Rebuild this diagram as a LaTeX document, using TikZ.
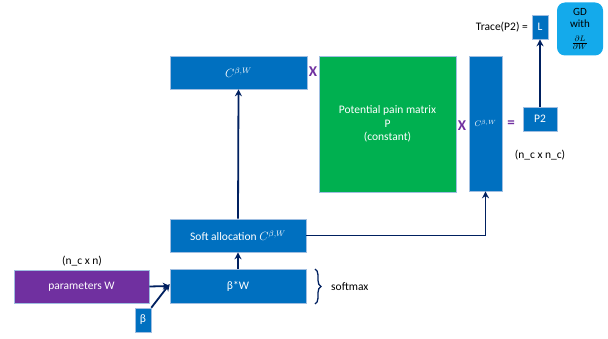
\documentclass[tikz,border=0pt]{standalone}
\usepackage{fontspec}
\setmainfont{Carlito}
\usetikzlibrary{arrows.meta,decorations.pathreplacing}
\definecolor{mblue}{RGB}{0,112,192}
\definecolor{mgreen}{RGB}{0,176,80}
\definecolor{mpurple}{RGB}{112,48,160}
\definecolor{lblue}{RGB}{20,170,235}
\definecolor{navy}{RGB}{0,32,96}
\definecolor{edge}{RGB}{160,190,225}
\begin{document}
\begin{tikzpicture}[x=1pt,y=-1pt,
  box/.style={draw=edge,line width=0.6pt,fill=mblue,text=white,inner sep=0pt,align=center,font=\fontsize{11.5}{13.5}\selectfont},
  sign/.style={text=mpurple,font=\fontsize{15}{16}\selectfont\bfseries,inner sep=0pt},
  lbl/.style={text=black,font=\fontsize{11.5}{13.5}\selectfont,inner sep=0pt},
  conn/.style={draw=navy,line width=1.8pt,-{Stealth[length=7pt,width=7pt]}}]
\useasboundingbox (0,0) rectangle (608,339);
\node[box,minimum width=137pt,minimum height=33pt] (C) at (238.5,72.5) {$C^{\beta,W}$};
\node[box,fill=mgreen,minimum width=137pt,minimum height=136pt] (P) at (387.5,124) {Potential pain matrix\\P\\(constant)};
\node[box,minimum width=33pt,minimum height=135pt,font=\fontsize{8}{9}\selectfont] (Ct) at (485.5,123.5) {$C^{\beta,W}$};
\node[box,minimum width=34pt,minimum height=24pt] (P2) at (540,119) {P2};
\node[box,minimum width=16pt,minimum height=24pt] (L) at (540,27) {L};
\node[box,fill=lblue,draw=none,rounded corners=8pt,minimum width=46pt,minimum height=53pt,text=black,font=\fontsize{11}{12}\selectfont] (GD) at (580,29) {GD\\with\\[6pt]{\fontsize{11}{12}\selectfont$\frac{\partial L}{\partial W}$}};
\node[box,minimum width=136pt,minimum height=33pt] (soft) at (238,235.5) {Soft allocation $C^{\beta,W}$};
\node[box,minimum width=136pt,minimum height=34pt] (bw) at (238,286) {β*W};
\node[box,fill=mpurple,minimum width=135pt,minimum height=33pt] (W) at (81.5,286.5) {parameters W};
\node[box,minimum width=16pt,minimum height=24pt] (beta) at (143,320) {β};
\node[sign] (x1) at (313,72) {X};
\node[sign] (x2) at (462,126) {X};
\node[sign] (eq) at (511,124) {=};
\node[lbl] (ncn) at (82,261) {(n\_c x n)};
\node[lbl] (ncnc) at (540,155) {(n\_c x n\_c)};
\node[lbl,anchor=east] (tr) at (528,27) {Trace(P2) =};
\node[lbl,anchor=west] (sm) at (331,287) {softmax};
\coordinate (b1) at (315,269);
\coordinate (b2) at (315,304);
\draw[navy,line width=1.3pt,decorate,decoration={brace,amplitude=6pt}] (b1) -- (b2);
\draw[conn] (W.east) -- (bw.west);
\draw[conn] (beta.north east) -- ([yshift=2pt]bw.west);
\draw[conn] (bw.north) -- (soft.south);
\draw[conn] (soft.north) -- (C.south);
\draw[conn] (soft.east) -| (Ct.south);
\draw[conn] (P2.north) -- (L.south);
\end{tikzpicture}
\end{document}
